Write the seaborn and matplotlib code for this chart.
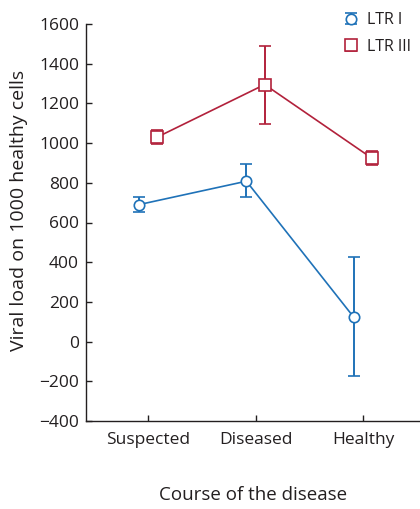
import numpy as np
import pandas as pd
import matplotlib
matplotlib.use("Agg")
import matplotlib.pyplot as plt
import seaborn as sns
from matplotlib.container import ErrorbarContainer
from matplotlib.legend_handler import HandlerErrorbar

# ── Data ─────────────────────────────────────────────────────────────────────
STAGES = ["Suspected", "Diseased", "Healthy"]
LTR1_MEAN = [690, 808, 122]
LTR1_LOW  = [655, 728, -173]
LTR1_HIGH = [727, 895, 428]
LTR3_MEAN = [1030, 1295, 923]
LTR3_LOW  = [995, 1097, 892]
LTR3_HIGH = [1066, 1487, 958]

BLUE = "#1f72b8"
RED  = "#b2213b"
INK  = "#231f20"

sns.set_style("ticks")
plt.rcParams["font.family"] = ["Open Sans", "DejaVu Sans"]

fig = plt.figure(figsize=(4.2, 5.09), dpi=100)
ax = fig.add_axes([86 / 420, 1 - 421 / 509, 1 - 86 / 420, (421 - 24) / 509])

x = np.arange(len(STAGES))
series = [
    ("LTR I", LTR1_MEAN, LTR1_LOW, LTR1_HIGH, BLUE, "o", -0.085),
    ("LTR III", LTR3_MEAN, LTR3_LOW, LTR3_HIGH, RED, "s", 0.085),
]

handles = []
for name, mean, low, high, col, mk, dx in series:
    xs = x + dx
    df = pd.DataFrame({"x": xs, "y": mean})
    sns.lineplot(data=df, x="x", y="y", ax=ax, color=col, linewidth=1.2,
                 legend=False, zorder=2)
    mean = np.array(mean)
    yerr = [mean - np.array(low), np.array(high) - mean]
    eb = ax.errorbar(xs, mean, yerr=yerr, fmt=mk, color=col, ecolor=col,
                     elinewidth=1.4, capsize=4.5, capthick=1.4,
                     markersize=7.5 if mk == "o" else 8, markerfacecolor="white",
                     markeredgecolor=col, markeredgewidth=1.2, zorder=3,
                     label=name)
    handles.append(eb)

ax.set_xlim(-0.577, 2.53)
ax.set_ylim(-400, 1600)
ax.set_yticks(np.arange(-400, 1601, 200))
ax.set_yticklabels([f"{v}".replace("-", "\u2212") for v in range(-400, 1601, 200)])
ax.set_xticks(x)
ax.set_xticklabels(STAGES)

for s in ["top", "right"]:
    ax.spines[s].set_visible(False)
for s in ["left", "bottom"]:
    ax.spines[s].set_color(INK)
    ax.spines[s].set_linewidth(1.0)
ax.tick_params(direction="in", length=4, width=1.0, color=INK,
               labelsize=12.5, labelcolor=INK)
ax.tick_params(axis="y", pad=5)
ax.tick_params(axis="x", pad=8)

ax.set_xlabel("Course of the disease", fontsize=13.5, color=INK, labelpad=27)
ax.set_ylabel("Viral load on 1000 healthy cells", fontsize=14, color=INK)
ax.yaxis.set_label_coords(-0.175, 0.53)

fig.legend(handles=handles, labels=["LTR I", "LTR III"],
           handler_map={ErrorbarContainer: HandlerErrorbar(yerr_size=0.35)},
           loc="upper left", bbox_to_anchor=(337 / 420, 1 - 6 / 509),
           frameon=False, fontsize=11.5, handlelength=1.0, handletextpad=0.45,
           labelspacing=0.65, labelcolor=INK, borderaxespad=0)

fig.savefig("out.png", dpi=100)
